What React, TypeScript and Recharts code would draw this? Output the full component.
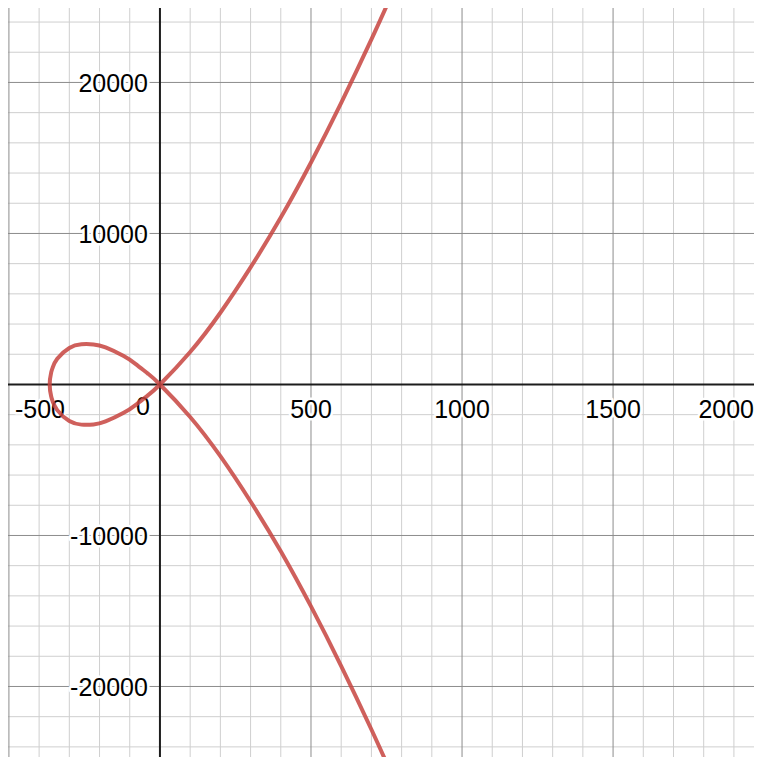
import { LineChart, Line, XAxis, YAxis, ReferenceLine, ReferenceDot } from 'recharts'

// points, in drawing order (top-right branch -> loop -> bottom-right branch)
const curveX = [
  760, 700, 600, 500, 400, 300, 200, 100, 0,
  -40, -80, -120, -180, -220, -260, -300, -340, -355, -360, -365,
  -360, -355, -340, -300, -260, -220, -180, -120, -80, -40,
  0, 100, 200, 300, 400, 500, 600, 700, 760,
]
const curveY = [
  25500, 22850, 18650, 14700, 11050, 7750, 4750, 2150, 0,
  -720, -1350, -1880, -2450, -2650, -2660, -2420, -1700, -1120, -800, 0,
  800, 1120, 1700, 2420, 2660, 2650, 2450, 1880, 1350, 720,
  0, -2150, -4750, -7750, -11050, -14700, -18650, -22850, -25500,
]

const minorX = [-400, -300, -200, -100, 100, 200, 300, 400, 600, 700, 800, 900, 1100, 1200, 1300, 1400, 1600, 1700, 1800, 1900]
const majorX = [-500, 500, 1000, 1500, 2000]
const minorY = [-24000, -22000, -18000, -16000, -14000, -12000, -8000, -6000, -4000, -2000, 2000, 4000, 6000, 8000, 12000, 14000, 16000, 18000, 22000, 24000]
const majorY = [-20000, -10000, 10000, 20000]

const xLabels = [-500, 500, 1000, 1500, 2000]
const yLabels = [-20000, -10000, 10000, 20000]

const data = curveX.map((x, i) => ({ x, y: curveY[i] }))

const W = 754
const H = 757
const FS = 25
const FONT = '"Liberation Sans", Arial, Helvetica, sans-serif'

const labelStyle = {
  fontSize: FS,
  fontFamily: FONT,
  fill: '#000',
  stroke: '#fff',
  strokeWidth: 5,
  strokeLinejoin: 'round' as const,
  paintOrder: 'stroke',
}

function textWidth(s: string) {
  let w = 0
  for (const ch of s) w += ch === '-' ? 0.333 : 0.556
  return w * FS
}

function XLabel(props: any) {
  const { cx, cy, value } = props
  const s = String(value)
  const half = textWidth(s) / 2
  const x = Math.min(Math.max(cx, half + 7), W - half - 8)
  return <text x={x} y={cy + 33.5} textAnchor="middle" style={labelStyle}>{s}</text>
}

function YLabel(props: any) {
  const { cx, cy, value } = props
  return <text x={cx - 12} y={cy + 9.5} textAnchor="end" style={labelStyle}>{String(value)}</text>
}

function ZeroLabel(props: any) {
  const { cx, cy } = props
  return <text x={cx - 17} y={cy + 30.5} textAnchor="middle" style={labelStyle}>0</text>
}

export default function App() {
  return (
    <div style={{ height: H - 8 }}>
      <LineChart width={W} height={H} data={data} margin={{ top: 0, right: 0, bottom: 0, left: 0 }}>
        <XAxis type="number" dataKey="x" domain={[-503, 1993]} allowDataOverflow hide />
        <YAxis type="number" dataKey="y" domain={[-25200, 24930]} allowDataOverflow hide />
        {minorX.map(v => <ReferenceLine key={'mx' + v} x={v} stroke="#cfcfcf" strokeWidth={1} zIndex={10} />)}
        {minorY.map(v => <ReferenceLine key={'my' + v} y={v} stroke="#cfcfcf" strokeWidth={1} zIndex={10} />)}
        {majorX.map(v => <ReferenceLine key={'Mx' + v} x={v} stroke="#8c8c8c" strokeWidth={1} zIndex={20} />)}
        {majorY.map(v => <ReferenceLine key={'My' + v} y={v} stroke="#8c8c8c" strokeWidth={1} zIndex={20} />)}
        <ReferenceLine x={0} stroke="#1c1c1c" strokeWidth={2} zIndex={30} />
        <ReferenceLine y={0} stroke="#1c1c1c" strokeWidth={2} zIndex={30} />
        {xLabels.map(v => (
          <ReferenceDot key={'xl' + v} x={v} y={0} r={0} ifOverflow="visible" zIndex={40}
            shape={(p: any) => <XLabel {...p} value={v} />} />
        ))}
        {yLabels.map(v => (
          <ReferenceDot key={'yl' + v} x={0} y={v} r={0} ifOverflow="visible" zIndex={40}
            shape={(p: any) => <YLabel {...p} value={v} />} />
        ))}
        <ReferenceDot x={0} y={0} r={0} ifOverflow="visible" zIndex={40} shape={(p: any) => <ZeroLabel {...p} />} />
        <Line type="natural" dataKey="y" stroke="#c74440" strokeOpacity={0.85} strokeWidth={4} dot={false}
          activeDot={false} isAnimationActive={false} zIndex={100} />
      </LineChart>
    </div>
  )
}
